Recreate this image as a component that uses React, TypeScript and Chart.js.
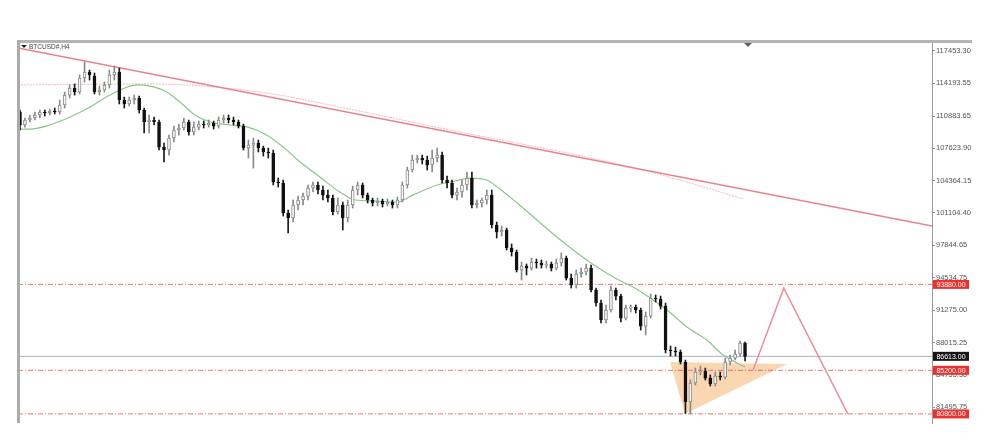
import React, { useEffect, useRef } from "react";
import { Chart, registerables } from "chart.js";

Chart.register(...registerables);

const SYMBOL_TITLE = "BTCUSD#,H4";

const OPEN = [
  111290, 109980, 110480, 110680, 110990, 111290, 111190, 111390, 111290, 112000,
  113000, 113710, 113310, 114720, 115330, 114920, 113310, 113510, 114020, 115030,
  115330, 112500, 112100, 112500, 112700, 111490, 110280, 110480, 110280, 107750,
  107450, 108660, 109470, 109670, 110280, 109270, 109770, 110070, 109980, 110180,
  109870, 110480, 110680, 110480, 110280, 109870, 107650, 107950, 108160, 107650,
  107250, 107150, 104220, 104120, 101090, 100580, 101900, 102400, 102800, 103610,
  103920, 103410, 102900, 102600, 101190, 101900, 100580, 101900, 103410, 103920,
  102900, 102400, 102100, 102300, 102000, 102200, 101900, 102400, 103920, 105430,
  106440, 106640, 106440, 105940, 106640, 106940, 104420, 104120, 102900, 103210,
  103920, 104620, 101900, 102100, 102400, 102900, 99880, 99170, 99370, 97550,
  97150, 95330, 95730, 95530, 96140, 96040, 95840, 95940, 95530, 96040,
  96540, 94520, 93820, 94930, 95130, 95530, 93310, 92000, 90280, 91290,
  93310, 92700, 90480, 91490, 91590, 91290, 89670, 90680, 92500, 92400,
  91690, 87250, 87150, 87050, 86040, 82000, 83920, 85030, 85130, 84420,
  83820, 84620, 84520, 86040, 86440, 86850, 87960,
];
const HIGH = [
  111490, 110680, 110990, 111290, 111490, 111490, 111590, 111690, 112500, 113310,
  114020, 114120, 115030, 116340, 115530, 115230, 113910, 114320, 115530, 115930,
  115730, 112800, 112800, 113000, 112900, 111690, 110990, 110780, 110480, 108160,
  108960, 109870, 110070, 110680, 110480, 110280, 110380, 110380, 110480, 110380,
  110780, 110990, 110990, 110780, 110480, 110070, 108460, 108660, 108460, 107850,
  107650, 107450, 104620, 104420, 101390, 102400, 102800, 103110, 103920, 104220,
  104220, 103810, 103410, 102900, 102600, 102200, 102400, 103810, 104220, 104120,
  103110, 102600, 102600, 102500, 102500, 102400, 102700, 104220, 105730, 106940,
  106940, 106940, 106840, 107450, 107650, 107250, 104820, 104420, 103610, 104420,
  105230, 105230, 102400, 102600, 103410, 103410, 100180, 99770, 99570, 97960,
  97350, 96140, 95940, 96540, 96440, 96340, 96240, 96140, 96440, 97050,
  96740, 94930, 95330, 95530, 95940, 95840, 93510, 92300, 91800, 93710,
  93510, 92910, 91800, 91800, 91800, 91490, 91090, 92910, 92810, 92700,
  92000, 87650, 87550, 87250, 86240, 84220, 85430, 85630, 85430, 84730,
  85030, 85030, 86440, 86750, 87250, 88160, 88060,
];
const LOW = [
  109470, 109770, 110280, 110480, 110680, 110880, 110990, 111090, 111090, 111690,
  112700, 113000, 113110, 114320, 114520, 113110, 113000, 113310, 113710, 114520,
  112100, 111690, 111900, 112100, 111190, 109170, 109170, 109980, 107450, 106240,
  106940, 108260, 108960, 109470, 108960, 108960, 109470, 109670, 109770, 109570,
  109670, 110180, 110180, 109980, 109670, 107450, 106640, 105630, 107250, 106840,
  106640, 103920, 103710, 100780, 99070, 100180, 101390, 101900, 102400, 103210,
  103010, 102400, 102200, 100890, 100990, 99370, 100180, 101590, 102900, 102600,
  102100, 101800, 101800, 101690, 101800, 101590, 101590, 102200, 103610, 105230,
  106140, 106040, 105430, 105230, 106240, 104120, 103610, 102600, 102400, 102700,
  103410, 101590, 101590, 101690, 102000, 99570, 98560, 98760, 97350, 96740,
  95130, 94320, 94830, 95330, 95530, 95530, 95530, 95230, 95330, 95730,
  94320, 93510, 93510, 94620, 94830, 93110, 91690, 89980, 89980, 91090,
  92300, 90080, 90280, 91090, 90990, 89270, 88770, 90480, 92100, 91390,
  86950, 86640, 86640, 85840, 80850, 80800, 83720, 84730, 84220, 83610,
  83610, 84220, 84320, 85740, 86240, 86640, 86140,
];
const CLOSE = [
  109980, 110480, 110680, 110990, 111290, 111190, 111390, 111290, 112000, 113000,
  113710, 113310, 114720, 115330, 115030, 113310, 113510, 114020, 115030, 115330,
  112500, 112100, 112500, 112700, 111490, 110280, 110480, 110280, 107750, 107450,
  108660, 109470, 109670, 110280, 109270, 109770, 110070, 109980, 110180, 109870,
  110480, 110680, 110480, 110280, 109870, 107650, 107950, 108160, 107650, 107250,
  107150, 104220, 104120, 101090, 100580, 101900, 102400, 102800, 103610, 103920,
  103410, 102900, 102600, 101190, 101900, 100580, 101900, 103410, 103920, 102900,
  102400, 102100, 102300, 102000, 102200, 101900, 102400, 103920, 105430, 106440,
  106640, 106440, 105940, 106640, 106940, 104420, 104120, 102900, 103210, 103920,
  104620, 101900, 102100, 102400, 102900, 99880, 99170, 99370, 97550, 97150,
  95330, 95730, 95530, 96140, 96040, 95840, 95940, 95530, 96040, 96540,
  94520, 93820, 94930, 95130, 95530, 93310, 92000, 90280, 91290, 93310,
  92700, 90480, 91490, 91590, 91290, 89670, 90680, 92500, 92400, 91690,
  87250, 87150, 87050, 86040, 82000, 83920, 85030, 85130, 84420, 83820,
  84620, 84520, 86040, 86440, 86850, 87960, 86613,
];

const Y_TICK_LABELS = [
  "117453.30", "114193.55", "110883.65", "107623.90", "104364.15", "101104.40",
  "97844.65", "94534.75", "91275.00", "88015.25", "84755.50", "81495.75",
];

const CURRENT_PRICE = 86613.0;
const LEVELS = [93880.0, 85200.0, 80800.0];

// fast moving average (green)
const MA_X = [
  -0.4, 2.0, 6.0, 10.1, 14.1, 18.1, 21.1, 23.6, 26.2, 29.2, 32.2, 35.2, 38.3, 42.3,
  45.9, 49.3, 53.0, 56.4, 60.4, 64.4, 67.5, 71.5, 75.9, 79.1, 84.0, 87.6, 90.6,
  94.0, 96.1, 100.1, 104.1, 108.1, 112.2, 116.2, 120.2, 123.8, 127.5, 130.3, 134.3,
  138.3, 141.6, 144.4, 146.0,
];
const MA_Y = [
  109570, 109570, 109980, 110780, 111790, 113000, 113710, 114020, 113910, 113410,
  112300, 110990, 110280, 109980, 109770, 109070, 107750, 106240, 104720, 103210,
  102400, 102300, 102200, 102900, 103920, 104320, 104620, 104420, 103710, 102100,
  100380, 98660, 97050, 95630, 94420, 93510, 92300, 91290, 89570, 88260, 86750,
  85940, 85530,
];

// slow moving average (faint pink)
const SLOW_MA_X = [-0.4, 26.2, 48.3, 64.4, 86.6, 116.8, 132.9, 145.6];
const SLOW_MA_Y = [114020, 114120, 113310, 111790, 109470, 106440, 104420, 102500];

const TREND_X = [-0.4, 183.65];
const TREND_Y = [117750, 99780];

const TRIANGLE_X = [130.9, 154.5, 133.9, 130.9];
const TRIANGLE_Y = [86040, 85840, 80790, 86040];

const PROJECTION_X = [147.6, 153.8, 166.7];
const PROJECTION_Y = [85200, 93500, 80800];

const X_MIN = -0.4;
const X_MAX = 183.65;
const Y_MIN = 79880;
const Y_MAX = 118360;

const pts = (xs: number[], ys: number[]) => xs.map((x, i) => ({ x, y: ys[i] }));

const overlayPlugin = {
  id: "mtOverlay",
  afterDraw(chart: any) {
    const { ctx, chartArea, scales } = chart;
    const ys = scales.y;
    const L = chartArea.left;
    const R = chartArea.right;
    const T = chartArea.top;
    const B = chartArea.bottom;
    ctx.save();
    // top frame
    ctx.fillStyle = "#b3b3b3";
    ctx.fillRect(L, T - 2, R - L + 40, 3);
    // left frame
    ctx.fillStyle = "#ababab";
    ctx.fillRect(L - 1, T - 2, 3, B - T + 2);
    // shift marker
    ctx.fillStyle = "#5a6470";
    const mx = L + 730;
    ctx.beginPath();
    ctx.moveTo(mx - 4, T + 1);
    ctx.lineTo(mx + 4, T + 1);
    ctx.lineTo(mx, T + 5);
    ctx.closePath();
    ctx.fill();
    // title
    ctx.fillStyle = "#222";
    ctx.beginPath();
    ctx.moveTo(L + 3, T + 3);
    ctx.lineTo(L + 9, T + 3);
    ctx.lineTo(L + 6, T + 6);
    ctx.closePath();
    ctx.fill();
    ctx.fillStyle = "#444";
    ctx.font = "6.5px 'Liberation Sans', Arial, sans-serif";
    ctx.textBaseline = "middle";
    ctx.textAlign = "left";
    ctx.fillText(SYMBOL_TITLE, L + 11, T + 5);
    // price labels
    ctx.font = "7px 'Liberation Sans', Arial, sans-serif";
    ctx.textAlign = "center";
    const box = (v: number, bg: string) => {
      const py = ys.getPixelForValue(v);
      ctx.fillStyle = bg;
      ctx.fillRect(R + 1, py - 4.5, 36, 9);
      ctx.fillStyle = "#fff";
      ctx.fillText(v.toFixed(2), R + 19, py + 0.5);
    };
    LEVELS.forEach((v) => box(v, "#e8322e"));
    box(CURRENT_PRICE, "#151515");
    ctx.restore();
  },
};

export default function App() {
  const ref = useRef<HTMLCanvasElement | null>(null);

  useEffect(() => {
    if (!ref.current) return;
    const bull = OPEN.map((o, i) => CLOSE[i] >= o);
    const levelSets = LEVELS.map((lv) => ({
      type: "line" as const,
      data: [
        { x: X_MIN, y: lv },
        { x: X_MAX, y: lv },
      ],
      borderColor: "rgba(232,80,80,0.8)",
      borderWidth: 1,
      borderDash: [5, 2, 1, 2],
      pointRadius: 0,
      order: 8,
    }));
    const chart = new Chart(ref.current, {
      type: "bar",
      data: {
        datasets: [
          {
            type: "line",
            data: pts(TRIANGLE_X, TRIANGLE_Y),
            fill: "shape",
            backgroundColor: "rgba(247,190,132,0.62)",
            borderWidth: 0,
            pointRadius: 0,
            order: 10,
          } as any,
          ...levelSets,
          {
            type: "line",
            data: [
              { x: X_MIN, y: CURRENT_PRICE },
              { x: X_MAX, y: CURRENT_PRICE },
            ],
            borderColor: "#a8b2bf",
            borderWidth: 1,
            pointRadius: 0,
            order: 8,
          },
          {
            type: "line",
            data: pts(SLOW_MA_X, SLOW_MA_Y),
            borderColor: "rgba(236,140,150,0.6)",
            borderWidth: 1,
            borderDash: [2, 1],
            pointRadius: 0,
            cubicInterpolationMode: "monotone",
            order: 7,
          },
          {
            type: "line",
            data: pts(TREND_X, TREND_Y),
            borderColor: "#e9828f",
            borderWidth: 1.6,
            pointRadius: 0,
            order: 6,
          },
          {
            type: "line",
            data: pts(MA_X, MA_Y),
            borderColor: "#8cc58c",
            borderWidth: 1.2,
            pointRadius: 0,
            cubicInterpolationMode: "monotone",
            order: 4,
          },
          {
            type: "line",
            data: pts(PROJECTION_X, PROJECTION_Y),
            borderColor: "#ea8fa0",
            borderWidth: 1.5,
            pointRadius: 0,
            order: 3,
          },
          {
            type: "bar",
            data: LOW.map((l, i) => ({ x: i, y: [l, HIGH[i]] })),
            backgroundColor: bull.map((b) => (b ? "#8a8a8a" : "#1a1a1a")),
            barThickness: 1,
            grouped: false,
            order: 2,
          } as any,
          {
            type: "bar",
            data: OPEN.map((o, i) => ({ x: i, y: [o, CLOSE[i]] })),
            backgroundColor: bull.map((b) => (b ? "#f6f6f6" : "#111")),
            borderColor: bull.map((b) => (b ? "#8a8a8a" : "#111")),
            borderWidth: 1,
            borderSkipped: false,
            barThickness: 3,
            minBarLength: 1,
            grouped: false,
            order: 1,
          } as any,
        ],
      },
      options: {
        responsive: false,
        animation: false,
        events: [],
        layout: { padding: { left: 18, top: 42, right: 0, bottom: 23 } },
        plugins: { legend: { display: false }, tooltip: { enabled: false } },
        scales: {
          x: {
            type: "linear",
            min: X_MIN,
            max: X_MAX,
            offset: false,
            display: false,
          },
          y: {
            type: "linear",
            position: "right",
            min: Y_MIN,
            max: Y_MAX,
            afterBuildTicks: (scale: any) => {
              scale.ticks = Y_TICK_LABELS.map((s) => ({ value: parseFloat(s) }));
            },
            afterFit: (scale: any) => {
              scale.width = 68;
            },
            border: { display: true, color: "#9a9a9a", width: 1 },
            grid: {
              display: true,
              drawOnChartArea: false,
              drawTicks: true,
              tickLength: 3,
              color: "#9a9a9a",
            },
            ticks: {
              autoSkip: false,
              padding: 1,
              color: "#555",
              font: { family: "'Liberation Sans', Arial, sans-serif", size: 7.5 },
              callback: (v: any) => Number(v).toFixed(2),
            },
          },
        },
      },
      plugins: [overlayPlugin],
    } as any);
    return () => chart.destroy();
  }, []);

  return (
    <div style={{ position: "absolute", left: 0, top: 0, width: 1000, height: 446, background: "#fff" }}>
      <canvas ref={ref} width={1000} height={446} style={{ display: "block" }} />
    </div>
  );
}
